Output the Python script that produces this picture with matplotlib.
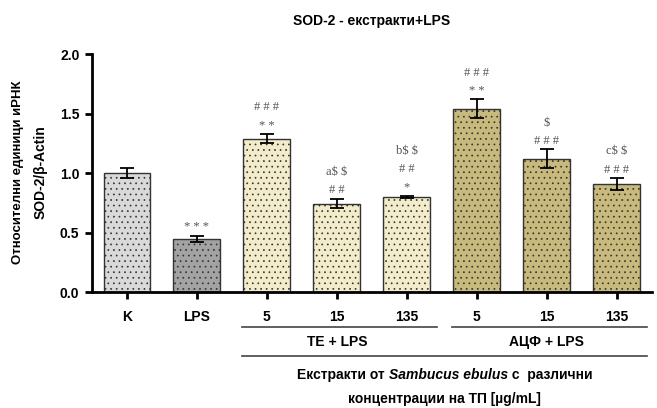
import matplotlib
matplotlib.use("Agg")
from matplotlib import pyplot as plt
import matplotlib.transforms as mtransforms

# data
labels = ["K", "LPS", "5", "15", "135", "5", "15", "135"]
values = [1.00, 0.45, 1.29, 0.745, 0.80, 1.54, 1.12, 0.91]
errors = [0.04, 0.025, 0.04, 0.04, 0.01, 0.08, 0.08, 0.05]
colors = ["#d9d9d9", "#a3a3a3", "#f2ecca", "#f2ecca", "#f2ecca",
          "#c8b97c", "#c8b97c", "#c8b97c"]
# significance marks per bar, from bottom to top
marks = [[], ["* * *"], ["* *", "# # #"], ["# #", "a$ $"], ["*", "# #", "b$ $"],
         ["* *", "# # #"], ["# # #", "$"], ["# # #", "c$ $"]]
groups = [("TE + LPS", 2, 4), ("АЦФ + LPS", 5, 7)]

plt.rcParams['font.family'] = ['Liberation Sans', 'DejaVu Sans']
plt.rcParams['hatch.linewidth'] = 0.5

fig = plt.figure(figsize=(6.57, 4.08), dpi=100)
ax = fig.add_axes([0.140, 0.284, 0.852, 0.583])

x = list(range(len(labels)))
ax.bar(x, values, width=0.67, color=colors, edgecolor="#333333",
       linewidth=1.0, hatch="...", zorder=2)
ax.errorbar(x, values, yerr=errors, fmt="none", ecolor="black",
            elinewidth=1.3, capsize=5, capthick=1.3, zorder=3)

# annotations above the bars
step = 0.155
for i, m in enumerate(marks):
    base = values[i] + errors[i] + 0.07
    for k, s in enumerate(m):
        ax.text(i, base + k * step, s, ha="center", va="center",
                fontsize=9, color="#555555", family="Liberation Serif",
                parse_math=False)

ax.set_xlim(-0.5, 7.5)
ax.set_ylim(0, 2.0)
ax.set_yticks([0, 0.5, 1.0, 1.5, 2.0])
ax.set_yticklabels(["0.0", "0.5", "1.0", "1.5", "2.0"])
ax.set_xticks(x)
ax.set_xticklabels(labels)
for lab in ax.get_xticklabels() + ax.get_yticklabels():
    lab.set_fontweight("bold")
    lab.set_fontsize(10)
ax.tick_params(axis="both", direction="out", length=5, width=2, pad=4)
ax.tick_params(axis="x", pad=8)

for s in ["top", "right"]:
    ax.spines[s].set_visible(False)
for s in ["left", "bottom"]:
    ax.spines[s].set_linewidth(2)

# group lines and labels under the axis
trans = mtransforms.blended_transform_factory(ax.transData, fig.transFigure)
def fy(py):
    return 1 - py / 408.0

for name, a, b in groups:
    ax.plot([a - 0.36, b + 0.43], [fy(327), fy(327)], transform=trans,
            color="#444444", lw=1.2, clip_on=False)
    ax.text((a + b) / 2, fy(342), name, transform=trans, ha="center",
            va="center", fontsize=10, fontweight="bold")
ax.plot([groups[0][1] - 0.36, groups[-1][2] + 0.43], [fy(356), fy(356)],
        transform=trans, color="#444444", lw=1.2, clip_on=False)

# first line of the x caption: plain + italic + plain, laid out side by side
parts = [("Екстракти от ", "normal"), ("Sambucus ebulus", "italic"),
         (" с  различни", "normal")]
renderer = fig.canvas.get_renderer()
texts = []
for s, st in parts:
    t = fig.text(0, fy(375), s, ha="left", va="center", fontsize=10,
                 fontweight="bold", style=st)
    texts.append(t)
widths = [t.get_window_extent(renderer).width for t in texts]
total = sum(widths)
xpix = 0.677 * 657 - total / 2
for t, w in zip(texts, widths):
    t.set_x(xpix / 657)
    xpix += w

fig.text(0.677, fy(399), "концентрации на ТП [µg/mL]",
         ha="center", va="center", fontsize=10, fontweight="bold")

fig.text(0.028, fy(172), "Относителни единици иРНК", rotation=90,
         ha="center", va="center", fontsize=9.5, fontweight="bold")
fig.text(0.062, fy(172), "SOD-2/β-Actin", rotation=90,
         ha="center", va="center", fontsize=10, fontweight="bold")

fig.text(0.566, fy(21), "SOD-2 - екстракти+LPS", ha="center", va="center",
         fontsize=10, fontweight="bold")

fig.savefig("out.png", dpi=100)
